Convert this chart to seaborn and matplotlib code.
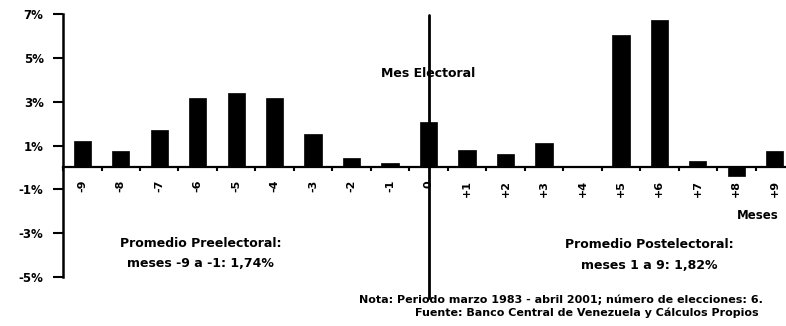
import matplotlib
matplotlib.use("Agg")
import matplotlib.pyplot as plt
import seaborn as sns
import pandas as pd

# Monthly variation around electoral months (percent)
meses = ["-9", "-8", "-7", "-6", "-5", "-4", "-3", "-2", "-1", "0",
         "+1", "+2", "+3", "+4", "+5", "+6", "+7", "+8", "+9"]
variacion = [1.20, 0.75, 1.70, 3.15, 3.38, 3.15, 1.55, 0.43, 0.21, 2.08,
             0.80, 0.63, 1.12, 0.00, 6.05, 6.72, 0.30, -0.40, 0.75]
y_ticks = [7, 5, 3, 1, -1, -3, -5]
y_labels = ["7%", "5%", "3%", "1%", "-1%", "-3%", "-5%"]

df = pd.DataFrame({"mes": meses, "valor": variacion})

sns.set_theme(style="white")
plt.rcParams["font.family"] = ["DejaVu Sans"]
plt.rcParams["font.weight"] = "bold"
plt.rcParams["text.color"] = "black"
plt.rcParams["xtick.color"] = "black"
plt.rcParams["ytick.color"] = "black"
plt.rcParams["axes.labelcolor"] = "black"

fig = plt.figure(figsize=(7.86, 3.26), dpi=100)
ax = fig.add_axes([0.0802, 0.150, 0.930, 0.807])

sns.barplot(data=df, x="mes", y="valor", order=meses, color="black",
            width=0.45, saturation=1, edgecolor="black", linewidth=0.5,
            ax=ax, zorder=3)

ax.set_xlim(-0.5, len(meses) - 0.5)
ax.set_ylim(-5, 7)
ax.set_xlabel("")
ax.set_ylabel("")

# y axis
ax.set_yticks(y_ticks)
ax.set_yticklabels(y_labels, fontsize=8.5, fontweight="heavy")
ax.tick_params(axis="y", direction="out", length=7, width=1.5, pad=7,
               left=True, colors="black")

# x axis drawn at zero, ticks between categories
ax.spines["bottom"].set_position(("data", 0))
ax.spines["bottom"].set_linewidth(1.6)
ax.spines["left"].set_linewidth(1.8)
ax.spines["bottom"].set_color("black")
ax.spines["left"].set_color("black")
ax.spines["top"].set_visible(False)
ax.spines["right"].set_visible(False)

ax.set_xticks(range(len(meses)))
ax.set_xticklabels(meses, rotation=90, fontsize=8, fontweight="heavy")
ax.set_xticks([i - 0.5 for i in range(len(meses) + 1)], minor=True)
ax.tick_params(axis="x", which="major", length=0, pad=9)
ax.tick_params(axis="x", which="minor", direction="out", length=3, width=1.5,
               bottom=True, colors="black")
ax.grid(False)

# electoral month marker
i0 = meses.index("0")
ax.plot([i0, i0], [6.95, -5.95], color="black", lw=2, clip_on=False, zorder=6)
ax.text(i0, 4.3, "Mes Electoral", ha="center", va="center",
        fontsize=9, fontweight="heavy", zorder=5)

ax.text(17.55, -2.19, "Meses", ha="center", va="center",
        fontsize=8.5, fontweight="heavy")

ax.text(3.08, -3.47, "Promedio Preelectoral:", ha="center", va="center",
        fontsize=9, fontweight="heavy")
ax.text(3.08, -4.38, "meses -9 a -1: 1,74%", ha="center", va="center",
        fontsize=9, fontweight="heavy")
ax.text(14.74, -3.52, "Promedio Postelectoral:", ha="center", va="center",
        fontsize=9, fontweight="heavy")
ax.text(14.74, -4.47, "meses 1 a 9: 1,82%", ha="center", va="center",
        fontsize=9, fontweight="heavy")

fig.text(0.970, 0.080,
         "Nota: Periodo marzo 1983 - abril 2001; número de elecciones: 6.",
         ha="right", va="center", fontsize=8, fontweight="heavy")
fig.text(0.965, 0.040,
         "Fuente: Banco Central de Venezuela y Cálculos Propios",
         ha="right", va="center", fontsize=8, fontweight="heavy")

fig.savefig("out.png", dpi=100, facecolor="white")
